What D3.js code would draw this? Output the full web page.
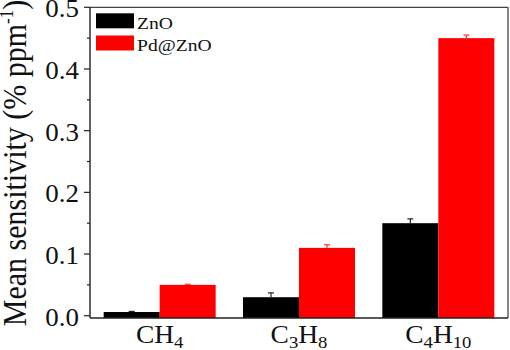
<!DOCTYPE html>
<html>
<head>
<meta charset="utf-8">
<script src="https://cdn.jsdelivr.net/npm/d3@7/dist/d3.min.js"></script>
<style>
  html, body { margin: 0; padding: 0; background: #fff; }
  svg { display: block; font-family: "Liberation Serif", "Times New Roman", serif; }
</style>
</head>
<body>
<svg id="chart" width="510" height="350"></svg>
<script>
// Gas species on the x axis (base + subscript)
const gases = ["CH4", "C3H8", "C4H10"];
const gasLabels = [["CH", "4"], ["C", "3", "H", "8"], ["C", "4", "H", "10"]];
const seriesNames = ["ZnO", "Pd@ZnO"];
const seriesColors = ["#000000", "#ff0000"];
// Mean sensitivity (% ppm^-1) and error bar half-heights
const znoValues = [0.006, 0.030, 0.150];
const znoErrors = [0.001, 0.007, 0.007];
const pdValues = [0.050, 0.110, 0.450];
const pdErrors = [0.001, 0.005, 0.005];
const yTicks = [0.0, 0.1, 0.2, 0.3, 0.4, 0.5];
const yMinorTicks = [0.05, 0.15, 0.25, 0.35, 0.45];

const svg = d3.select("#chart");
const plot = { left: 90, right: 508, top: 7.3, bottom: 318 };
const sx = 1.1; // horizontal text stretch

const x0 = d3.scaleBand().domain(gases).range([plot.left, plot.right]).padding(0);
const x1 = d3.scaleBand().domain(seriesNames).range([0, x0.bandwidth()])
  .paddingInner(0).paddingOuter(0.244);
const y = d3.scaleLinear().domain([-0.0037, 0.5]).range([plot.bottom, plot.top]);

const data = gases.map((g, i) => ({
  gas: g,
  bars: [
    { name: seriesNames[0], value: znoValues[i], err: znoErrors[i], color: seriesColors[0] },
    { name: seriesNames[1], value: pdValues[i], err: pdErrors[i], color: seriesColors[1] }
  ]
}));

// Bars
const groups = svg.append("g").selectAll("g").data(data).join("g")
  .attr("transform", d => `translate(${x0(d.gas)},0)`);

groups.selectAll("rect").data(d => d.bars).join("rect")
  .attr("x", d => x1(d.name))
  .attr("width", x1.bandwidth())
  .attr("y", d => y(d.value))
  .attr("height", d => plot.bottom - y(d.value))
  .attr("fill", d => d.color);

// Error bars (upper half with cap)
const eb = groups.selectAll("g.err").data(d => d.bars).join("g").attr("class", "err")
  .attr("stroke", d => d.name === "ZnO" ? "#222" : "#ff3030")
  .attr("stroke-width", 1.2);
eb.append("line")
  .attr("x1", d => x1(d.name) + x1.bandwidth() / 2)
  .attr("x2", d => x1(d.name) + x1.bandwidth() / 2)
  .attr("y1", d => y(d.value))
  .attr("y2", d => y(d.value + d.err));
eb.append("line")
  .attr("x1", d => x1(d.name) + x1.bandwidth() / 2 - 3)
  .attr("x2", d => x1(d.name) + x1.bandwidth() / 2 + 3)
  .attr("y1", d => y(d.value + d.err))
  .attr("y2", d => y(d.value + d.err));

// Frame
svg.append("line").attr("x1", plot.left).attr("x2", plot.right)
  .attr("y1", plot.top).attr("y2", plot.top).attr("stroke", "#444").attr("stroke-width", 1.3);
svg.append("line").attr("x1", plot.right).attr("x2", plot.right)
  .attr("y1", plot.top).attr("y2", plot.bottom).attr("stroke", "#444").attr("stroke-width", 1.3);

// Y axis
const yAxis = svg.append("g").attr("transform", `translate(${plot.left},0)`);
yAxis.append("line").attr("x1", 0).attr("x2", 0).attr("y1", plot.top).attr("y2", plot.bottom)
  .attr("stroke", "#222").attr("stroke-width", 1.4);
yAxis.selectAll("line.major").data(yTicks).join("line").attr("class", "major")
  .attr("x1", -6).attr("x2", 0).attr("y1", d => y(d)).attr("y2", d => y(d))
  .attr("stroke", "#222").attr("stroke-width", 1.2);
yAxis.selectAll("line.minor").data(yMinorTicks).join("line").attr("class", "minor")
  .attr("x1", -3).attr("x2", 0).attr("y1", d => y(d)).attr("y2", d => y(d))
  .attr("stroke", "#222").attr("stroke-width", 1.2);
yAxis.selectAll("text").data(yTicks).join("text")
  .attr("transform", d => `translate(-11,${y(d) + 10}) scale(${sx},1)`)
  .attr("text-anchor", "end")
  .attr("font-size", 24.5)
  .attr("fill", "#111")
  .text(d3.format(".1f"));

// X axis
svg.append("line").attr("x1", plot.left).attr("x2", plot.right)
  .attr("y1", plot.bottom).attr("y2", plot.bottom).attr("stroke", "#222").attr("stroke-width", 1.4);

const xl = svg.append("g").selectAll("text").data(gases).join("text")
  .attr("transform", d => `translate(${x0(d) + x0.bandwidth() / 2},343) scale(${sx},1)`)
  .attr("text-anchor", "middle")
  .attr("font-size", 25)
  .attr("fill", "#111");
xl.each(function (d, i) {
  const t = d3.select(this);
  gasLabels[i].forEach((part, j) => {
    const isSub = j % 2 === 1;
    t.append("tspan")
      .attr("font-size", isSub ? 17 : 25)
      .attr("dy", isSub ? 5 : (j === 0 ? 0 : -5))
      .text(part);
  });
});

// Y axis title
const title = svg.append("text")
  .attr("transform", `translate(26,163) scale(${sx},1) rotate(-90)`)
  .attr("text-anchor", "middle")
  .attr("font-size", 30)
  .attr("fill", "#111");
title.append("tspan").text("Mean sensitivity (% ppm");
title.append("tspan").attr("font-size", 17).attr("dy", -12).text("-1");
title.append("tspan").attr("dy", 12).text(")");

// Legend
const legend = svg.append("g");
seriesNames.forEach((name, i) => {
  const row = legend.append("g").attr("transform", `translate(96,${13.3 + i * 22.2})`);
  row.append("rect").attr("width", 38).attr("height", 15).attr("fill", seriesColors[i]);
  row.append("text")
    .attr("transform", `translate(41,15.2) scale(1.12,1)`)
    .attr("font-size", 17.5)
    .attr("fill", "#111")
    .text(name);
});
</script>
</body>
</html>
